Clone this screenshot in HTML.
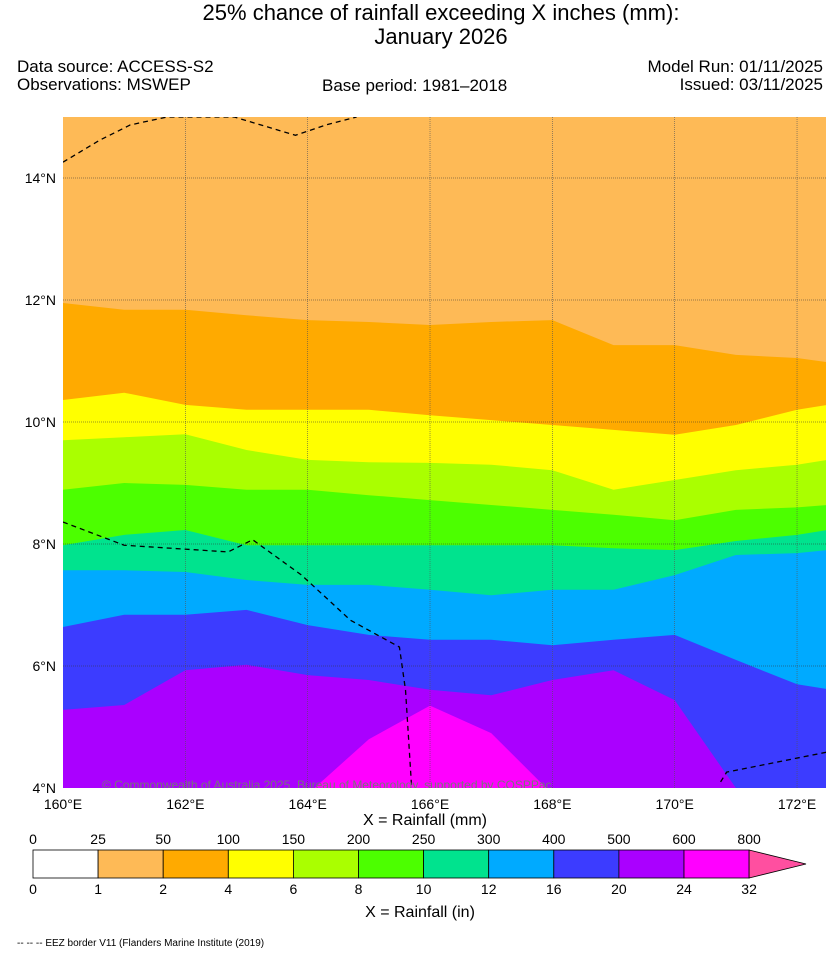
<!DOCTYPE html>
<html><head><meta charset="utf-8">
<style>
body{margin:0;background:#fff;font-family:"Liberation Sans",sans-serif;}
#wrap{position:relative;width:839px;height:955px;overflow:hidden;}
.t{position:absolute;white-space:nowrap;color:#000;}
</style></head>
<body>
<div id="wrap">
<div class="t" style="left:0;width:882px;text-align:center;top:1px;font-size:22px;line-height:24px;">25% chance of rainfall exceeding X inches (mm):<br>January 2026</div>
<div class="t" style="left:17px;top:58px;font-size:17px;line-height:18px;">Data source: ACCESS-S2<br>Observations: MSWEP</div>
<div class="t" style="left:322px;top:76px;font-size:17px;">Base period: 1981–2018</div>
<div class="t" style="right:16px;top:58px;font-size:17px;line-height:18px;text-align:right;">Model Run: 01/11/2025<br>Issued: 03/11/2025</div>
<svg id="svg" width="839" height="955" style="position:absolute;left:0;top:0"></svg>
<div class="t" style="left:17px;top:938px;font-size:10px;">-- -- -- EEZ border V11 (Flanders Marine Institute (2019)</div>
</div>
<script>
const lons=[160,161,162,163,164,165,166,167,168,169,170,171,172,172.5];
const b1=[11.95,11.84,11.84,11.75,11.67,11.64,11.59,11.64,11.67,11.26,11.26,11.10,11.05,10.98];
const b2=[10.36,10.48,10.28,10.20,10.20,10.20,10.11,10.03,9.95,9.87,9.79,9.95,10.20,10.28];
const b3=[9.70,9.75,9.80,9.54,9.38,9.34,9.33,9.30,9.21,8.89,9.05,9.21,9.30,9.38];
const b4=[8.89,9.00,8.97,8.89,8.89,8.80,8.72,8.64,8.56,8.48,8.39,8.56,8.60,8.64];
const b5=[7.98,8.15,8.23,7.98,7.98,7.98,7.98,7.98,7.98,7.93,7.90,8.05,8.15,8.23];
const b6=[7.57,7.57,7.54,7.41,7.33,7.33,7.25,7.16,7.25,7.25,7.49,7.82,7.85,7.90];
const b7=[6.64,6.84,6.84,6.92,6.67,6.51,6.43,6.43,6.34,6.43,6.51,6.10,5.70,5.62];
const b8=[5.28,5.36,5.93,6.02,5.85,5.77,5.61,5.52,5.77,5.93,5.44,4.0,4.0,4.0];
const b9=[3.9,3.9,3.9,3.9,3.9,4.8,5.35,4.9,3.9,3.9,3.9,3.9,3.9,3.9];
const boundaries=[b1,b2,b3,b4,b5,b6,b7,b8,b9];
const bandColors=['#feba56','#ffaa00','#ffff00','#aaff00','#4cff00','#00e38e','#00aaff','#3c3cff','#aa00ff','#ff00ff'];
const mmTicks=['0','25','50','100','150','200','250','300','400','500','600','800'];
const inTicks=['0','1','2','4','6','8','10','12','16','20','24','32'];
const lonTicks=[160,162,164,166,168,170,172];
const latTicks=[4,6,8,10,12,14];
const eez1Lon=[160,160.6,161.1,161.7,162.8,163.8,164.3,164.8];
const eez1Lat=[14.26,14.62,14.87,15.0,15.0,14.7,14.87,15.0];
const eez2Lon=[160,161,162.7,163.1,163.9,164.7,165.5,165.6,165.7];
const eez2Lat=[8.36,7.98,7.87,8.07,7.49,6.75,6.31,5.6,4.0];
const eez3Lon=[170.75,170.85,172.5];
const eez3Lat=[4.1,4.26,4.59];

const svg=document.getElementById('svg');
const NS='http://www.w3.org/2000/svg';
const X0=63,X1=826,Y0=117,Y1=788;
const xs=lon=>63+(lon-160)*61.17;
const ys=lat=>178+(14-lat)*61;
function mk(t,a){const e=document.createElementNS(NS,t);for(const k in a)e.setAttribute(k,a[k]);svg.appendChild(e);return e;}
const clip=mk('clipPath',{id:'pc'});


const cr=document.createElementNS(NS,'rect');cr.setAttribute('x',X0);cr.setAttribute('y',Y0);cr.setAttribute('width',X1-X0);cr.setAttribute('height',Y1-Y0);clip.appendChild(cr);
const g=mk('g',{'clip-path':'url(#pc)'});


function add(parent,t,a){const e=document.createElementNS(NS,t);for(const k in a)e.setAttribute(k,a[k]);parent.appendChild(e);return e;}
const bg=add(g,'rect',{x:X0,y:Y0,width:X1-X0,height:Y1-Y0,fill:bandColors[0]});


boundaries.forEach((b,i)=>{
  let d='M'+xs(lons[0])+','+ys(b[0]);
  for(let j=1;j<lons.length;j++)d+=' L'+xs(lons[j])+','+ys(b[j]);
  d+=' L'+(X1+5)+','+ys(b[b.length-1])+' L'+(X1+5)+','+(Y1+5)+' L'+(X0-5)+','+(Y1+5)+' L'+(X0-5)+','+ys(b[0])+' Z';
  const p=add(g,'path',{d:d,fill:bandColors[i+1]});
  
  
});
lonTicks.forEach(l=>{if(l>160){const e=add(g,'line',{x1:xs(l),x2:xs(l),y1:Y0,y2:Y1,stroke:'#555','stroke-width':0.6,'stroke-dasharray':'1,1'});

}});
latTicks.forEach(l=>{if(l>4){const e=add(g,'line',{x1:X0,x2:X1,y1:ys(l),y2:ys(l),stroke:'#333','stroke-width':0.6,'stroke-dasharray':'1,1'});

}});
[[eez1Lon,eez1Lat],[eez2Lon,eez2Lat],[eez3Lon,eez3Lat]].forEach(([lo,la])=>{
  const pts=lo.map((v,i)=>xs(v)+','+ys(la[i])).join(' ');
  const e=add(g,'polyline',{points:pts,fill:'none',stroke:'#000','stroke-width':1.3,'stroke-dasharray':'5,4'});
  
  
});
const cp=add(g,'text',{x:102,y:789,'font-size':12,fill:'#777','font-family':'Liberation Sans'});
cp.textContent='© Commonwealth of Australia 2025, Bureau of Meteorology, supported by COSPPac';


lonTicks.forEach(l=>{const t=mk('text',{x:xs(l),y:809,'font-size':14,'text-anchor':'middle'});t.textContent=l+'°E';

});
latTicks.forEach(l=>{const t=mk('text',{x:56,y:ys(l)+5,'font-size':14,'text-anchor':'end'});t.textContent=l+'°N';

});
const xt=mk('text',{x:425,y:825,'font-size':16,'text-anchor':'middle'});xt.textContent='X = Rainfall (mm)';


const xt2=mk('text',{x:420,y:917,'font-size':16,'text-anchor':'middle'});xt2.textContent='X = Rainfall (in)';


const CW=65.1,CX=33,CY=850,CH=28;
const cols=['#ffffff'].concat(bandColors);
cols.forEach((c,i)=>{const r=mk('rect',{x:CX+i*CW,y:CY,width:CW,height:CH,fill:c,stroke:'#000','stroke-width':0.8});

});
const tri=mk('polygon',{points:(CX+11*CW)+','+CY+' 806,'+(CY+CH/2)+' '+(CX+11*CW)+','+(CY+CH),fill:'#ff4fa0',stroke:'#000','stroke-width':0.8});


mmTicks.forEach((v,i)=>{const t=mk('text',{x:CX+i*CW,y:844,'font-size':14,'text-anchor':'middle'});t.textContent=v;

});
inTicks.forEach((v,i)=>{const t=mk('text',{x:CX+i*CW,y:894,'font-size':14,'text-anchor':'middle'});t.textContent=v;

});
</script>
</body></html>
